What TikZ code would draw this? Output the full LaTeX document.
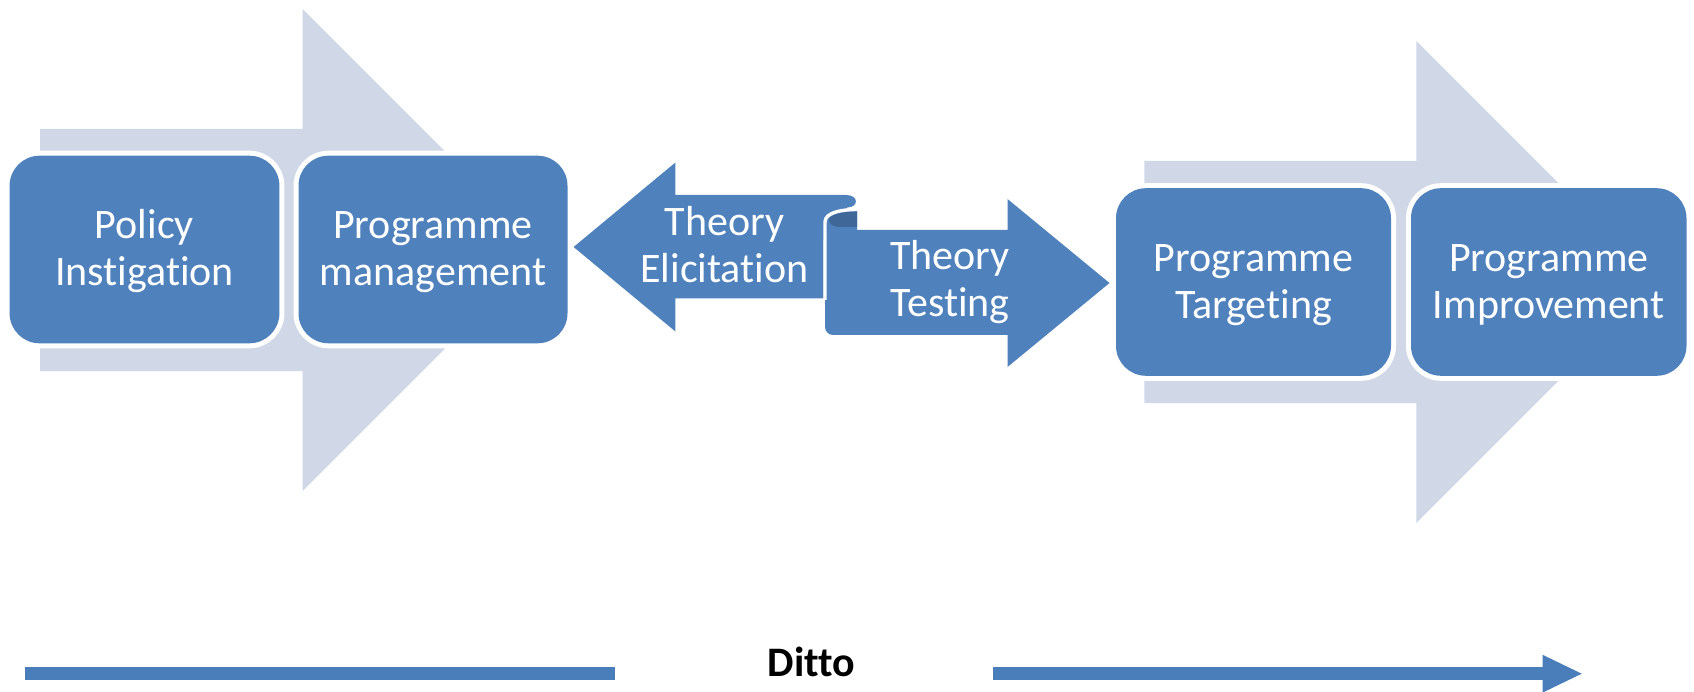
\documentclass[tikz,border=0pt]{standalone}
\usepackage{fontspec}
\setmainfont{Carlito}[Ligatures=NoCommon]
\definecolor{boxblue}{HTML}{4F81BD}
\definecolor{paleblue}{HTML}{D0D8E8}
\definecolor{rolldark}{HTML}{3F6797}
\definecolor{dittoblue}{HTML}{4A7EBB}
% two centred lines with fixed strut height/depth so every label sits alike
\newcommand{\boxlines}[2]{\rule{0pt}{35pt}#1\\#2\rule[-9.3pt]{0pt}{9.3pt}}
\tikzset{
  labelfont/.style={font=\fontsize{42}{46.7}\selectfont},
  stage/.style={labelfont, rounded corners=30pt, fill=boxblue,
    preaction={draw=white, line width=10pt},
    minimum height=187.6pt, inner sep=0pt, align=center, text=white},
  ribbontext/.style={labelfont, inner sep=0pt, align=center, text=white},
  backarrow/.style={fill=paleblue},
  dittobar/.style={draw=dittoblue, line width=13pt, line cap=butt},
}
\begin{document}
\begin{tikzpicture}[x=1pt, y=-1pt]
\useasboundingbox (0,0) rectangle (1694,692);

% pale block arrows behind the stage boxes
\fill[backarrow] (40,129) -- (302.5,129) -- (302.5,9) -- (543.5,250)
  -- (302.5,491) -- (302.5,371) -- (40,371) -- cycle;
\fill[backarrow] (1144.3,161) -- (1416.3,161) -- (1416.3,41) -- (1657.3,282)
  -- (1416.3,523) -- (1416.3,403) -- (1144.3,403) -- cycle;

% stage boxes
\node[stage, minimum width=269.8pt] (policy) at (144.5,249.5)
  {\boxlines{Policy}{Instigation}};
\node[stage, minimum width=269pt] (manage) at (433,249.5)
  {\boxlines{Programme}{management}};
\node[stage, minimum width=275pt] (target) at (1253.5,282)
  {\boxlines{Programme}{Targeting}};
\node[stage, minimum width=275.5pt] (improve) at (1548.75,282)
  {\boxlines{Programme}{Improvement}};

% left-right ribbon: left-pointing half with its upper curl
\fill[boxblue] (573.6,247) -- (675.4,162.5) -- (675.4,195) -- (846,195)
  .. controls (859,195) and (859,207.5) .. (847,207.5)
  -- (852,214) -- (840,225) -- (823.5,240) -- (823.5,298.5)
  -- (675.4,298.5) -- (675.4,331.5) -- cycle;
% right-pointing half, rolled at its left end
\fill[boxblue] (857,230) -- (1007.5,230) -- (1007.5,199) -- (1109.5,283)
  -- (1007.5,367) -- (1007.5,335) -- (833,335)
  .. controls (828.6,335) and (825,331.4) .. (825,327)
  -- (825,222) .. controls (825,213) and (840,209.5) .. (857,209.5) -- cycle;
% inside of the roll
\fill[rolldark] (857,211.5) .. controls (842,211.5) and (829,214.5) .. (829,220)
  .. controls (829,225) and (834,227) .. (842,227) -- (857,227) -- cycle;
% white edge where the roll lies over the left half
\draw[white, line width=3.4pt] (857,209.5) .. controls (840,209.5) and (825,213) .. (825,222)
  -- (825,300);

\node[ribbontext] (elicit) at (724.5,246.5) {\boxlines{Theory}{Elicitation}};
\node[ribbontext] (testing) at (950,280.5) {\boxlines{Theory}{Testing}};

% bottom timeline
\coordinate (dl1) at (24.8,673.7);
\coordinate (dl2) at (615,673.7);
\coordinate (dr1) at (993,673.7);
\coordinate (dr2) at (1581.7,673.7);
\coordinate (drb) at (1542.7,673.7);
\draw[dittobar] (dl1) -- (dl2);
\draw[dittobar] (dr1) -- (drb);
\fill[dittoblue] (dr2) -- ([yshift=18.85pt]drb) -- ([yshift=-18.85pt]drb) -- cycle;
\node[font=\fontsize{42}{46.7}\selectfont\bfseries, anchor=base, inner sep=0pt]
  (ditto) at (811.7,676.5) {Ditto};
\end{tikzpicture}
\end{document}
